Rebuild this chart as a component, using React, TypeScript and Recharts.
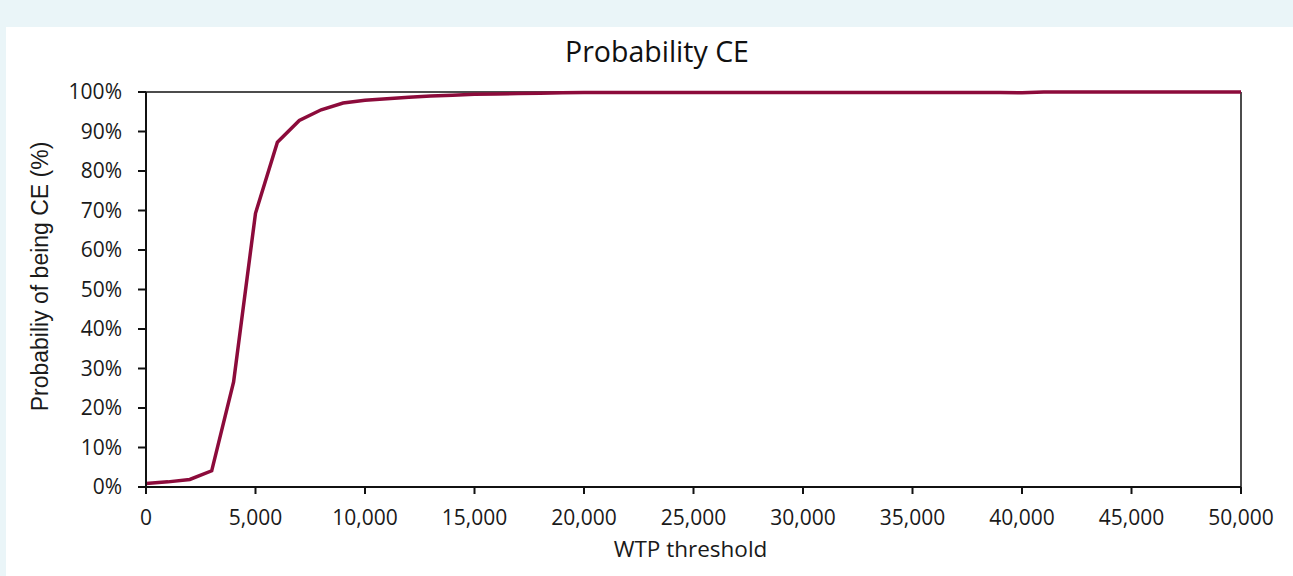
import React from "react";
import { LineChart, Line, XAxis, YAxis, ReferenceLine } from "recharts";

const wtpThresholds: number[] = [
  0, 1000, 2000, 3000, 4000, 5000, 6000, 7000, 8000, 9000,
  10000, 11000, 12000, 13000, 14000, 15000, 16000, 17000, 18000, 19000,
  20000, 21000, 22000, 23000, 24000, 25000, 26000, 27000, 28000, 29000,
  30000, 31000, 32000, 33000, 34000, 35000, 36000, 37000, 38000, 39000,
  40000, 41000, 42000, 43000, 44000, 45000, 46000, 47000, 48000, 49000, 50000,
];

const probabilityCE: number[] = [
  0.009, 0.013, 0.019, 0.041, 0.266, 0.693, 0.873, 0.928, 0.955, 0.972,
  0.979, 0.983, 0.987, 0.990, 0.992, 0.994, 0.995, 0.996, 0.997, 0.998,
  0.999, 0.999, 0.999, 0.999, 0.999, 0.999, 0.999, 0.999, 0.999, 0.999,
  0.999, 0.999, 0.999, 0.999, 0.999, 0.999, 0.999, 0.999, 0.999, 0.999,
  0.998, 1.0, 1.0, 1.0, 1.0, 1.0, 1.0, 1.0, 1.0, 1.0, 1.0,
];

const xTicks: number[] = [0, 5000, 10000, 15000, 20000, 25000, 30000, 35000, 40000, 45000, 50000];
const yTicks: number[] = [0, 0.1, 0.2, 0.3, 0.4, 0.5, 0.6, 0.7, 0.8, 0.9, 1.0];

const chartTitle = "Probability CE";
const xAxisTitle = "WTP threshold";
const yAxisTitle = "Probabiliy of being CE (%)";

const data = wtpThresholds.map((x, i) => ({ wtp: x, prob: probabilityCE[i] }));

const tickFont = "'Open Sans', 'Noto Sans', sans-serif";

const YLabel = (props: any) => {
  const vb = props.viewBox || {};
  const cx = (vb.x ?? 0) - 26;
  const cy = (vb.y ?? 0) + (vb.height ?? 0) / 2 - 13;
  return (
    <text
      x={cx}
      y={cy}
      transform={`rotate(-90, ${cx}, ${cy})`}
      textAnchor="middle"
      dominantBaseline="central"
      fontFamily="'Liberation Sans', Arial, sans-serif"
      fontSize={23}
      fill="#1a1a1a"
    >
      {yAxisTitle}
    </text>
  );
};

const XLabel = (props: any) => {
  const vb = props.viewBox || {};
  const cx = (vb.x ?? 0) + (vb.width ?? 0) / 2 - 3;
  const cy = (vb.y ?? 0) + 70;
  return (
    <text x={cx} y={cy} textAnchor="middle" fontFamily={tickFont} fontSize={22.5} fill="#1a1a1a">
      {xAxisTitle}
    </text>
  );
};

export default function App() {
  return (
    <div style={{ position: "fixed", left: 0, top: 0, width: 1293, height: 576, background: "#eaf5f8", overflow: "hidden" }}>
      <div style={{ position: "absolute", left: 6, top: 27, width: 1287, height: 549, background: "#ffffff" }} />
      <div
        style={{
          position: "absolute",
          left: 0,
          top: 32,
          width: 1314,
          textAlign: "center",
          fontFamily: tickFont,
          fontSize: 28.5,
          color: "#111",
          lineHeight: "38px",
        }}
      >
        {chartTitle}
      </div>
      <div style={{ position: "absolute", left: 0, top: 0 }}>
        <LineChart width={1293} height={576} data={data} margin={{ top: 92, right: 52, bottom: 29, left: 66 }}>
          <XAxis
            dataKey="wtp"
            type="number"
            domain={[0, 50000]}
            ticks={xTicks}
            tickFormatter={(v: number) => v.toLocaleString("en-US")}
            interval={0}
            height={60}
            axisLine={{ stroke: "#111", strokeWidth: 2 }}
            tickLine={{ stroke: "#111", strokeWidth: 2 }}
            tickSize={7}
            tickMargin={16}
            tick={{ fill: "#1a1a1a", fontFamily: tickFont, fontSize: 21 }}
            label={<XLabel />}
          />
          <YAxis
            type="number"
            domain={[0, 1]}
            ticks={yTicks}
            interval={0}
            tickFormatter={(v: number) => `${Math.round(v * 100)}%`}
            width={80}
            axisLine={{ stroke: "#111", strokeWidth: 2 }}
            tickLine={{ stroke: "#111", strokeWidth: 2 }}
            tickSize={8}
            tickMargin={16}
            tick={{ fill: "#1a1a1a", fontFamily: tickFont, fontSize: 21 }}
            label={<YLabel />}
          />
          <ReferenceLine y={1} stroke="#111" strokeWidth={1.5} ifOverflow="extendDomain" />
          <ReferenceLine x={50000} stroke="#111" strokeWidth={1.5} />
          <Line
            type="linear"
            dataKey="prob"
            stroke="#8c0b3b"
            strokeWidth={3.5}
            dot={false}
            activeDot={false}
            isAnimationActive={false}
          />
        </LineChart>
      </div>
    </div>
  );
}
